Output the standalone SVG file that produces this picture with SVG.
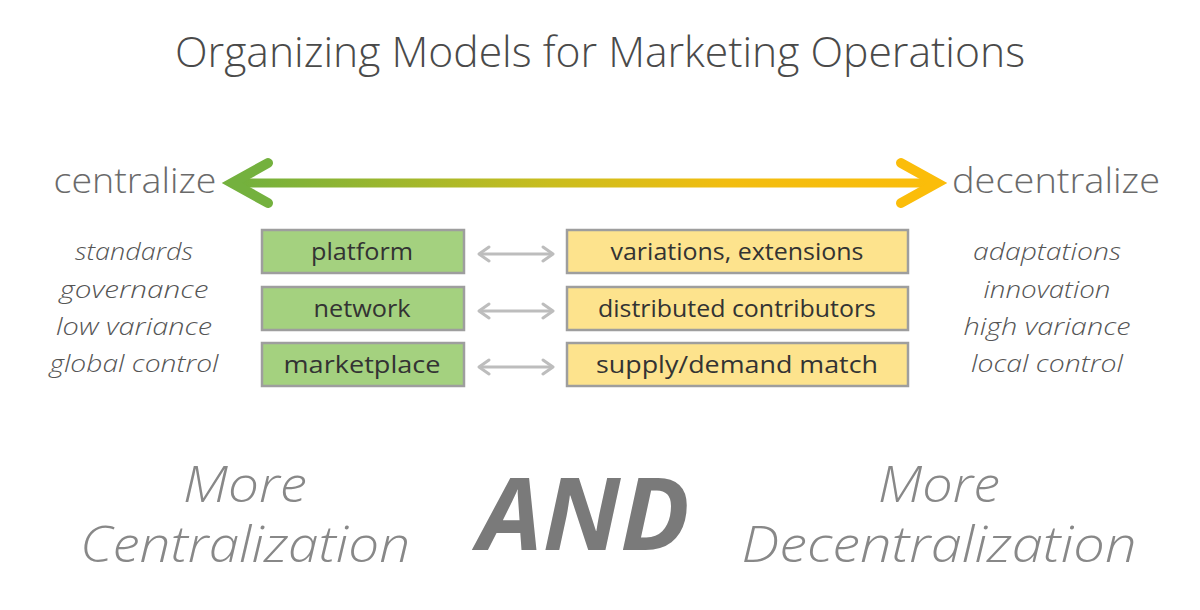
<svg xmlns="http://www.w3.org/2000/svg" width="1200" height="610" viewBox="0 0 1200 610">
<defs>
<linearGradient id="g" x1="228" y1="0" x2="941" y2="0" gradientUnits="userSpaceOnUse">
<stop offset="0" stop-color="#6fb03e"/>
<stop offset="0.45" stop-color="#c9bd1e"/>
<stop offset="0.7" stop-color="#f2bd10"/>
<stop offset="1" stop-color="#fbbd0a"/>
</linearGradient>
<marker id="sa" viewBox="0 0 14 18" refX="12" refY="9" markerWidth="14" markerHeight="18" markerUnits="userSpaceOnUse" orient="auto-start-reverse">
<path d="M2,2 L12,9 L2,16" fill="none" stroke="#bdbdbd" stroke-width="3" stroke-linecap="round" stroke-linejoin="round"/>
</marker>
</defs>
<style>
text{font-family:"Open Sans","Liberation Sans",sans-serif;fill:#555;}
.title{font-size:42px;font-weight:300;fill:#4a4a4a;}
.end{font-size:34px;font-weight:300;fill:#6a6a6a;}
.it{font-size:23px;font-style:italic;font-weight:300;fill:#555;}
.box{font-size:23px;fill:#333;}
.gbox{fill:#a4d17f;stroke:#9e9e9e;stroke-width:2.5;}
.ybox{fill:#fde38d;stroke:#9e9e9e;stroke-width:2.5;}
.big{font-size:49px;font-style:italic;font-weight:300;fill:#888;}
.and{font-size:100px;font-style:italic;font-weight:bold;fill:#7a7a7a;}
.sm{stroke:#bdbdbd;stroke-width:3;fill:none;}
</style>
<rect width="1200" height="610" fill="#fff"/>
<text class="title" x="600" y="67" text-anchor="middle" textLength="850" lengthAdjust="spacingAndGlyphs">Organizing Models for Marketing Operations</text>
<g id="main-arrow">
<path d="M240,183 H930" stroke="url(#g)" stroke-width="9" fill="none"/>
<path d="M268,163 L232,183 L268,203" stroke="#74b13e" stroke-width="10" fill="none" stroke-linecap="round" stroke-linejoin="miter"/>
<path d="M901,163 L937,183 L901,203" stroke="#fbbd0a" stroke-width="10" fill="none" stroke-linecap="round" stroke-linejoin="miter"/>
</g>
<text class="end" x="135" y="193" text-anchor="middle" textLength="163" lengthAdjust="spacingAndGlyphs">centralize</text>
<text class="end" x="1056" y="193" text-anchor="middle" textLength="208" lengthAdjust="spacingAndGlyphs">decentralize</text>
<g id="left-list">
<text class="it" x="134" y="260" text-anchor="middle" textLength="118" lengthAdjust="spacingAndGlyphs">standards</text>
<text class="it" x="134" y="298" text-anchor="middle" textLength="149" lengthAdjust="spacingAndGlyphs">governance</text>
<text class="it" x="134" y="335" text-anchor="middle" textLength="156" lengthAdjust="spacingAndGlyphs">low variance</text>
<text class="it" x="134" y="372" text-anchor="middle" textLength="169" lengthAdjust="spacingAndGlyphs">global control</text>
</g>
<g id="right-list">
<text class="it" x="1047" y="260" text-anchor="middle" textLength="148" lengthAdjust="spacingAndGlyphs">adaptations</text>
<text class="it" x="1047" y="298" text-anchor="middle" textLength="127" lengthAdjust="spacingAndGlyphs">innovation</text>
<text class="it" x="1047" y="335" text-anchor="middle" textLength="167" lengthAdjust="spacingAndGlyphs">high variance</text>
<text class="it" x="1047" y="372" text-anchor="middle" textLength="152" lengthAdjust="spacingAndGlyphs">local control</text>
</g>
<g id="platform"><rect class="gbox" x="262" y="230" width="202" height="43"/><text class="box" x="362" y="260" text-anchor="middle" textLength="102" lengthAdjust="spacingAndGlyphs">platform</text></g>
<g id="network"><rect class="gbox" x="262" y="287" width="202" height="43"/><text class="box" x="362" y="317" text-anchor="middle" textLength="97" lengthAdjust="spacingAndGlyphs">network</text></g>
<g id="marketplace"><rect class="gbox" x="262" y="343" width="202" height="43"/><text class="box" x="362" y="373" text-anchor="middle" textLength="157" lengthAdjust="spacingAndGlyphs">marketplace</text></g>
<g id="variations"><rect class="ybox" x="567" y="230" width="341" height="43"/><text class="box" x="737" y="260" text-anchor="middle" textLength="253" lengthAdjust="spacingAndGlyphs">variations, extensions</text></g>
<g id="distributed"><rect class="ybox" x="567" y="287" width="341" height="43"/><text class="box" x="737" y="317" text-anchor="middle" textLength="278" lengthAdjust="spacingAndGlyphs">distributed contributors</text></g>
<g id="supply"><rect class="ybox" x="567" y="343" width="341" height="43"/><text class="box" x="737" y="373" text-anchor="middle" textLength="282" lengthAdjust="spacingAndGlyphs">supply/demand match</text></g>
<g id="connectors">
<path class="sm" d="M479,254 H553" marker-start="url(#sa)" marker-end="url(#sa)"/>
<path class="sm" d="M479,311 H553" marker-start="url(#sa)" marker-end="url(#sa)"/>
<path class="sm" d="M479,367 H553" marker-start="url(#sa)" marker-end="url(#sa)"/>
</g>
<text class="big" x="245" y="502" text-anchor="middle" textLength="124" lengthAdjust="spacingAndGlyphs">More</text>
<text class="big" x="245" y="562" text-anchor="middle" textLength="330" lengthAdjust="spacingAndGlyphs">Centralization</text>
<text class="and" x="584" y="550" text-anchor="middle" textLength="212" lengthAdjust="spacingAndGlyphs">AND</text>
<text class="big" x="939" y="502" text-anchor="middle" textLength="122" lengthAdjust="spacingAndGlyphs">More</text>
<text class="big" x="939" y="562" text-anchor="middle" textLength="395" lengthAdjust="spacingAndGlyphs">Decentralization</text>
</svg>
